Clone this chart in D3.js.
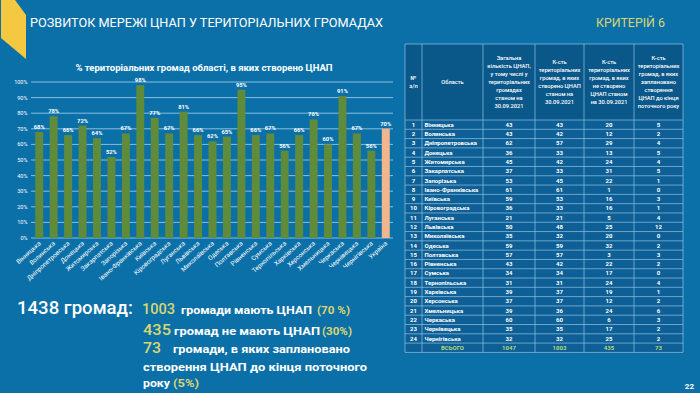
<!DOCTYPE html>
<html>
<head>
<meta charset="utf-8">
<script src="https://cdn.jsdelivr.net/npm/d3@7"></script>
<style>
  body { margin: 0; background: #0c70a8; }
  svg { display: block; font-family: Roboto, "DejaVu Sans", sans-serif; }
</style>
</head>
<body>
<svg id="slide" width="700" height="393"></svg>
<script>
// chart data
const regions = ["Вінницька", "Волинська", "Дніпропетровська", "Донецька", "Житомирська", "Закарпатська",
  "Запорізька", "Івано-Франківська", "Київська", "Кіровоградська", "Луганська", "Львівська",
  "Миколаївська", "Одеська", "Полтавська", "Рівненська", "Сумська", "Тернопільська", "Харківська",
  "Херсонська", "Хмельницька", "Черкаська", "Чернівецька", "Чернігівська", "Україна"];
const shares = [68, 78, 66, 72, 64, 52, 67, 98, 77, 67, 81, 66, 62, 65, 95, 66, 67, 56, 66, 76, 60, 91, 67, 56, 70];
const yTicks = [0, 10, 20, 30, 40, 50, 60, 70, 80, 90, 100];

// table data
const tableRegions = ["Вінницька", "Волинська", "Дніпропетровська", "Донецька", "Житомирська", "Закарпатська",
  "Запорізька", "Івано-Франківська", "Київська", "Кіровоградська", "Луганська", "Львівська",
  "Миколаївська", "Одеська", "Полтавська", "Рівненська", "Сумська", "Тернопільська", "Харківська",
  "Херсонська", "Хмельницька", "Черкаська", "Чернівецька", "Чернігівська"];
const totalCnap   = [43, 43, 62, 36, 45, 37, 53, 61, 59, 36, 21, 50, 35, 59, 57, 43, 34, 31, 39, 37, 39, 60, 35, 32];
const withCnap    = [43, 42, 57, 33, 42, 33, 45, 61, 53, 33, 21, 48, 32, 59, 57, 42, 34, 31, 37, 37, 36, 60, 35, 32];
const withoutCnap = [20, 12, 29, 13, 24, 31, 22, 1, 16, 16, 5, 25, 20, 32, 3, 22, 17, 24, 19, 12, 24, 6, 17, 25];
const planned     = [5, 2, 4, 5, 4, 5, 1, 0, 3, 1, 4, 12, 0, 2, 3, 2, 0, 4, 1, 2, 6, 3, 2, 2];
const totalsRow = ["ВСЬОГО", 1047, 1003, 435, 73];
const headers = [
  ["№", "з/п"],
  ["Область"],
  ["Загальна", "кількість ЦНАП,", "у тому числі у", "територіальних", "громадах", "станом на", "30.09.2021"],
  ["К-сть", "територіальних", "громад, в яких", "створено ЦНАП", "станом на", "30.09.2021"],
  ["К-сть", "територіальних", "громад, в яких", "не створено", "ЦНАП станом", "на 30.09.2021"],
  ["К-сть", "територіальних", "громад, в яких", "заплановано", "створення", "ЦНАП до кінця", "поточного року"]
];

const svg = d3.select("#slide");
const yellow = "#d9d672";

// header strip
svg.append("polygon")
  .attr("points", "1,0 15,0 26,15 26,59 1,38")
  .attr("fill", "#f5c842");
svg.append("text")
  .attr("x", 30).attr("y", 26.5)
  .attr("font-size", 12.5).attr("fill", "#fff")
  .attr("textLength", 353).attr("lengthAdjust", "spacingAndGlyphs")
  .text("РОЗВИТОК МЕРЕЖІ ЦНАП У ТЕРИТОРІАЛЬНИХ ГРОМАДАХ");
svg.append("text")
  .attr("x", 596).attr("y", 26.5)
  .attr("font-size", 12.5).attr("fill", yellow)
  .attr("textLength", 69).attr("lengthAdjust", "spacingAndGlyphs")
  .text("КРИТЕРІЙ 6");

// bar chart
const x = d3.scaleBand().domain(regions).range([32, 393]).paddingInner(0.45).paddingOuter(0.225);
const y = d3.scaleLinear().domain([0, 100]).range([238, 82]);

const chart = svg.append("g");
chart.append("text")
  .attr("x", 204).attr("y", 70.5)
  .attr("text-anchor", "middle")
  .attr("font-size", 9.5).attr("font-weight", "bold").attr("fill", "#fff")
  .text("% територіальних громад області, в яких створено ЦНАП");

chart.selectAll(".grid").data(yTicks).enter().append("line")
  .attr("x1", 31).attr("x2", 393)
  .attr("y1", d => y(d)).attr("y2", d => y(d))
  .attr("stroke", "#a8d2ec").attr("stroke-width", 0.8);

chart.selectAll(".ytick").data(yTicks).enter().append("text")
  .attr("x", 27.5).attr("y", d => y(d) + 2)
  .attr("text-anchor", "end")
  .attr("font-size", 5.5).attr("fill", "#fff")
  .text(d => d + "%");

chart.selectAll(".bar").data(regions).enter().append("rect")
  .attr("x", d => x(d))
  .attr("width", x.bandwidth())
  .attr("y", (d, i) => y(shares[i]))
  .attr("height", (d, i) => y(0) - y(shares[i]))
  .attr("fill", d => d === "Україна" ? "#f3b68c" : "#5f8b3b");

chart.selectAll(".val").data(regions).enter().append("text")
  .attr("x", d => x(d) + x.bandwidth() / 2)
  .attr("y", (d, i) => y(shares[i]) - 3)
  .attr("text-anchor", "middle")
  .attr("font-size", 5.8).attr("font-weight", "bold").attr("fill", "#fff")
  .text((d, i) => shares[i] + "%");

chart.selectAll(".xlab").data(regions).enter().append("text")
  .attr("transform", d => `translate(${x(d) + x.bandwidth() / 2 + 2},244) rotate(-42)`)
  .attr("text-anchor", "end")
  .attr("font-size", 6.3).attr("fill", "#fff")
  .text(d => d);

// summary text
const summary = svg.append("g").attr("fill", "#fff");
function put(str, px, py, size, fill, len, weight) {
  const t = summary.append("text").attr("x", px).attr("y", py)
    .attr("font-size", size).attr("fill", fill)
    .attr("font-weight", weight || "bold").text(str);
  if (len) t.attr("textLength", len).attr("lengthAdjust", "spacingAndGlyphs");
}
put("1438 громад:", 17, 313.5, 17.5, "#fff", 116, 500);
put("1003", 142, 314, 15.5, yellow, 33, 500);
put("громади мають ЦНАП", 181, 314, 10.5, "#fff", 131);
put("(70 %)", 317, 314, 10.5, yellow, 33);
put("435", 143, 335, 15.5, yellow, 28, 500);
put("громад не мають ЦНАП", 174, 335, 10.5, "#fff", 146);
put("(30%)", 322, 335, 10.5, yellow, 30);
put("73", 143, 353, 15.5, yellow, 18, 500);
put("громади, в яких заплановано", 173, 353, 10.5, "#fff", 177);
put("створення ЦНАП до кінця поточного", 143, 370.5, 10.5, "#fff", 224);
put("року", 143, 386.5, 10.5, "#fff", 27);
put("(5%)", 173, 386.5, 10.5, yellow, 26);

svg.append("text")
  .attr("x", 694).attr("y", 389)
  .attr("text-anchor", "end")
  .attr("font-size", 8).attr("font-weight", "bold").attr("fill", "#fff")
  .text("22");

// table
const colX = [405, 422, 483, 535, 584, 634, 683];
const headTop = 44, headBottom = 120, tableBottom = 352.4;
const nRows = tableRegions.length + 1;
const rowY = d3.scaleLinear().domain([0, nRows]).range([headBottom, tableBottom]);
const lineColor = "#8fc4e4";

const table = svg.append("g");
table.append("rect")
  .attr("x", colX[0]).attr("y", headTop)
  .attr("width", colX[6] - colX[0]).attr("height", headBottom - headTop)
  .attr("fill", "#0a578a");
table.append("rect")
  .attr("x", colX[0]).attr("y", headBottom)
  .attr("width", colX[6] - colX[0]).attr("height", tableBottom - headBottom)
  .attr("fill", "#0d5f95");

headers.forEach((lines, c) => {
  const cx = (colX[c] + colX[c + 1]) / 2;
  const lh = 7.9;
  const y0 = (headTop + headBottom) / 2 - (lines.length - 1) * lh / 2 + 2;
  table.append("text")
    .attr("text-anchor", "middle")
    .attr("font-size", 5.7).attr("font-weight", 500).attr("fill", "#fff")
    .selectAll("tspan").data(lines).enter().append("tspan")
    .attr("x", cx).attr("y", (d, i) => y0 + i * lh)
    .text(d => d);
});

const rows = tableRegions.map((r, i) => [i + 1, r, totalCnap[i], withCnap[i], withoutCnap[i], planned[i]]);

rows.forEach((row, i) => {
  const cy = (rowY(i) + rowY(i + 1)) / 2 + 2.1;
  row.forEach((v, c) => {
    const t = table.append("text")
      .attr("y", cy)
      .attr("font-size", 6).attr("font-weight", "bold").attr("fill", "#fff")
      .text(v);
    if (c === 1) t.attr("x", colX[1] + 2.5);
    else t.attr("x", (colX[c] + colX[c + 1]) / 2).attr("text-anchor", "middle");
  });
});

const ty = (rowY(nRows - 1) + rowY(nRows)) / 2 + 2.1;
totalsRow.forEach((v, k) => {
  const c = k + 1;
  table.append("text")
    .attr("x", (colX[c] + colX[c + 1]) / 2).attr("y", ty)
    .attr("text-anchor", "middle")
    .attr("font-size", 6).attr("font-weight", "bold").attr("fill", "#b7d87c")
    .text(v);
});

// grid lines of the table
d3.range(nRows + 1).forEach(i => {
  table.append("line")
    .attr("x1", colX[0]).attr("x2", colX[6])
    .attr("y1", rowY(i)).attr("y2", rowY(i))
    .attr("stroke", lineColor).attr("stroke-width", 0.7);
});
colX.forEach(cx => {
  table.append("line")
    .attr("x1", cx).attr("x2", cx)
    .attr("y1", headTop).attr("y2", tableBottom)
    .attr("stroke", lineColor).attr("stroke-width", 0.7);
});
table.append("line")
  .attr("x1", colX[0]).attr("x2", colX[6])
  .attr("y1", headTop).attr("y2", headTop)
  .attr("stroke", lineColor).attr("stroke-width", 0.7);
</script>
</body>
</html>
